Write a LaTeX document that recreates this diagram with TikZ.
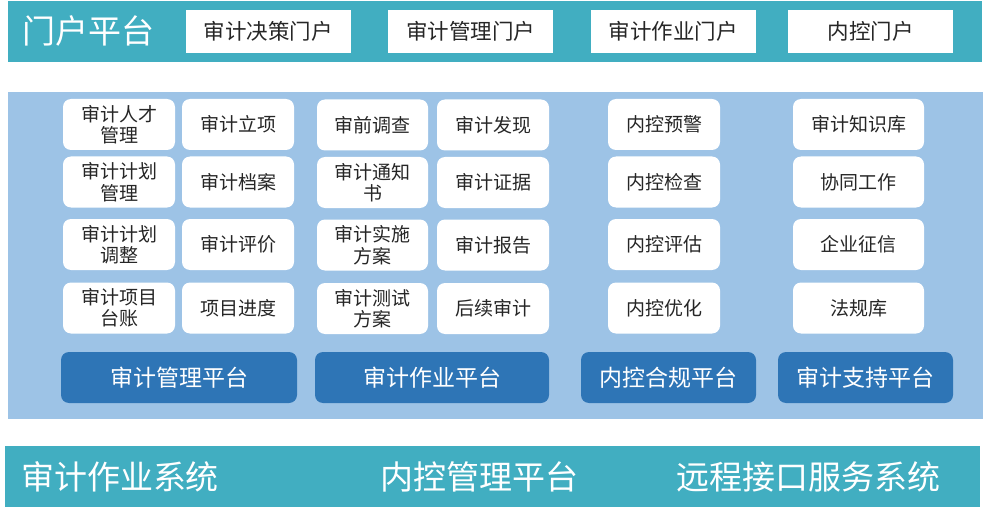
\documentclass[tikz,border=0pt]{standalone}
\usepackage{fontspec}
\setmainfont{Noto Sans CJK SC}
\definecolor{barteal}{HTML}{41AEC1}
\definecolor{panelblue}{HTML}{9DC3E6}
\definecolor{platblue}{HTML}{2E75B6}
\definecolor{celltext}{HTML}{262626}
\begin{document}
\begin{tikzpicture}[
    x=1pt, y=-1pt,
    bar/.style={fill=barteal, draw=none, inner sep=0pt},
    panel/.style={fill=panelblue, draw=none, inner sep=0pt},
    bigtext/.style={text=white, font=\fontsize{33}{36}\selectfont, inner sep=0pt},
    portal/.style={fill=white, draw=none, minimum width=165pt, minimum height=43pt, inner sep=0pt,
        text=celltext, font=\fontsize{21.5}{24}\selectfont},
    cell/.style={fill=white, draw=none, rounded corners=8pt, minimum width=112pt, minimum height=51pt,
        inner sep=0pt, align=center, text=celltext, font=\fontsize{19}{21.5}\selectfont},
    platform/.style={fill=platblue, draw=none, rounded corners=8pt, minimum height=51pt, inner sep=0pt,
        text=white, font=\fontsize{23}{26}\selectfont}
]
\useasboundingbox (0,0) rectangle (983,516);

% portal layer
\node[bar, minimum width=974pt, minimum height=61pt] (topbar) at (495,31.5) {};
\node[bigtext] (portaltitle) at (89,31) {门户平台};
\node[portal] (pDecision) at (268,31.5) {审计决策门户};
\node[portal] (pManage) at (470.5,31.5) {审计管理门户};
\node[portal] (pWork) at (673,31.5) {审计作业门户};
\node[portal] (pControl) at (870.5,31.5) {内控门户};

% platform layer
\node[panel, minimum width=975pt, minimum height=327pt] (midpanel) at (495.5,255.5) {};

\node[cell] (cTalent) at (119,124.5) {审计人才\\管理};
\node[cell] (cProject) at (238,124.5) {审计立项};
\node[cell] (cPlan) at (119,182) {审计计划\\管理};
\node[cell] (cArchive) at (238,182) {审计档案};
\node[cell] (cAdjust) at (119,244.5) {审计计划\\调整};
\node[cell] (cEval) at (238,244.5) {审计评价};
\node[cell] (cLedger) at (119,308) {审计项目\\台账};
\node[cell] (cProgress) at (238,308) {项目进度};

\node[cell, minimum width=111pt] (cSurvey) at (372.5,125) {审前调查};
\node[cell] (cFinding) at (493,125) {审计发现};
\node[cell, minimum width=111pt] (cNotice) at (372.5,182.5) {审计通知\\书};
\node[cell] (cEvidence) at (493,182.5) {审计证据};
\node[cell, minimum width=111pt] (cScheme) at (372.5,245) {审计实施\\方案};
\node[cell] (cReport) at (493,245) {审计报告};
\node[cell, minimum width=111pt] (cTest) at (372.5,308.5) {审计测试\\方案};
\node[cell] (cFollow) at (493,308.5) {后续审计};

\node[cell] (cWarn) at (664,124.5) {内控预警};
\node[cell] (cCheck) at (664,182) {内控检查};
\node[cell] (cAssess) at (664,244.5) {内控评估};
\node[cell] (cOptim) at (664,308) {内控优化};

\node[cell, minimum width=131pt] (cKnow) at (858.5,124.5) {审计知识库};
\node[cell, minimum width=131pt] (cCoop) at (858.5,182) {协同工作};
\node[cell, minimum width=131pt] (cCredit) at (858.5,244.5) {企业征信};
\node[cell, minimum width=131pt] (cLaw) at (858.5,308) {法规库};

\node[platform, minimum width=236pt] (platManage) at (179,377.5) {审计管理平台};
\node[platform, minimum width=234pt] (platWork) at (432,377.5) {审计作业平台};
\node[platform, minimum width=175pt] (platComply) at (668.5,377.5) {内控合规平台};
\node[platform, minimum width=175pt] (platSupport) at (865.5,377.5) {审计支持平台};

% system layer
\node[bar, minimum width=975pt, minimum height=61pt] (botbar) at (492.5,476.5) {};
\node[bigtext] (sysWork) at (120,477) {审计作业系统};
\node[bigtext] (sysControl) at (479,477) {内控管理平台};
\node[bigtext] (sysRemote) at (808,477) {远程接口服务系统};

\end{tikzpicture}
\end{document}
